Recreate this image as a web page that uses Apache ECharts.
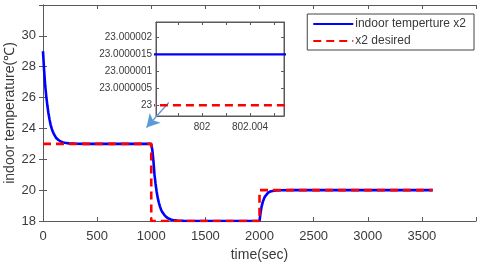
<!DOCTYPE html>
<html>
<head>
<meta charset="utf-8">
<script src="https://cdn.jsdelivr.net/npm/echarts@6/dist/echarts.min.js"></script>
<style>html,body{margin:0;padding:0;background:#fff}#c{width:480px;height:266px}</style>
</head>
<body>
<div id="c"></div>
<script>
// ---- data ----
const seriesNames = ['indoor temperture x2', 'x2 desired'];
const actualTime = [0,10,20,30,40,50,60,70,80,90,100,120,140,160,180,200,240,300,400,1000,
  1010,1020,1030,1040,1050,1060,1070,1080,1090,1100,1120,1140,1160,1180,1200,1240,1300,1400,2000,
  2010,2020,2030,2040,2050,2060,2080,2100,2120,2150,2200,2300,3600];
const actualTemp = [29.0,27.8,26.8,26.1,25.5,25.0,24.6,24.25,24.0,23.8,23.65,23.4,23.27,23.17,23.11,23.07,23.03,23.01,23.0,23.0,
  22.6,21.9,21.0,20.4,19.9,19.5,19.2,18.95,18.75,18.6,18.4,18.25,18.16,18.1,18.07,18.03,18.01,18.0,18.0,
  18.55,18.95,19.22,19.42,19.58,19.69,19.84,19.91,19.95,19.98,19.99,20.0,20.0];
const desiredTime = [0,1000,1000,2000,2000,3600];
const desiredTemp = [23,23,18,18,20,20];
const xTicks = [0,500,1000,1500,2000,2500,3000,3500];
const yTicks = [18,20,22,24,26,28,30];
// inset (zoom near t = 802 s)
const insetTime = [801.99, 802.01];
const insetActual = [23.0000015, 23.0000015];
const insetDesired = [23, 23];
const insetXTicks = [801.998, 802, 802.002, 802.004, 802.006];
const insetXLabels = [802, 802.004];
const insetYTicks = [23, 23.0000005, 23.000001, 23.0000015, 23.000002];
// arrow annotation (main axes coordinates)
const arrowFrom = [1162, 25.68];
const arrowTo = [956, 24.06];

const pair = (a, b) => a.map((x, i) => [x, b[i]]);
const FONT = 'Liberation Sans, Arial, Helvetica, sans-serif';
const AX = '#5a5a5a', TXT = '#3a3a3a';
const BLUE = '#0000ff', RED = '#ff0000';

function mainAxisBase() {
  return {
    type: 'value',
    axisLine: { show: true, lineStyle: { color: AX, width: 1 } },
    axisTick: { show: true, inside: true, length: 4, lineStyle: { color: AX } },
    splitLine: { show: false },
  };
}

const chart = echarts.init(document.getElementById('c'), null, { renderer: 'canvas' });
chart.setOption({
  animation: false,
  backgroundColor: '#fff',
  grid: [
    { left: 43, top: 5, width: 433, height: 216, containLabel: false, outerBoundsMode: 'none' },
    { left: 156, top: 22, width: 128, height: 94, containLabel: false, outerBoundsMode: 'none',
      show: true, backgroundColor: '#fff', borderColor: AX, borderWidth: 1 }
  ],
  legend: {
    data: seriesNames,
    orient: 'vertical',
    right: 6, top: 14,
    padding: [4, 8, 3, 5],
    itemGap: 5,
    itemWidth: 40, itemHeight: 10,
    backgroundColor: '#fff',
    borderColor: '#444', borderWidth: 1, borderRadius: 0,
    itemStyle: { opacity: 0 },
    textStyle: { fontFamily: FONT, fontSize: 12, color: TXT, padding: [0, 0, 0, -3] },
    selectedMode: false
  },
  xAxis: [
    Object.assign(mainAxisBase(), {
      gridIndex: 0, min: 0, max: 4000, interval: 500, position: 'bottom',
      axisLabel: { margin: 9, fontFamily: FONT, fontSize: 13, color: TXT,
        formatter: v => (xTicks.indexOf(v) >= 0 ? String(v) : '') },
      name: 'time(sec)', nameLocation: 'middle', nameGap: 27, nameMoveOverlap: false,
      nameTextStyle: { fontFamily: FONT, fontSize: 14, color: TXT }
    }),
    Object.assign(mainAxisBase(), {
      gridIndex: 0, min: 0, max: 4000, interval: 500, position: 'top',
      axisLabel: { show: false }
    }),
    {
      type: 'value', gridIndex: 1, min: 801.99617, max: 802.00683, position: 'bottom',
      axisLine: { show: true, lineStyle: { color: AX } },
      axisTick: { show: true, inside: true, length: 3, customValues: insetXTicks, lineStyle: { color: AX } },
      axisLabel: { customValues: insetXLabels, margin: 6, fontFamily: FONT, fontSize: 10, color: TXT,
        formatter: v => String(+(+v).toFixed(4)) },
      splitLine: { show: false }
    },
    {
      type: 'value', gridIndex: 1, min: 801.99617, max: 802.00683, position: 'top',
      axisLine: { show: true, lineStyle: { color: AX } },
      axisTick: { show: true, inside: true, length: 3, customValues: insetXTicks, lineStyle: { color: AX } },
      axisLabel: { show: false },
      splitLine: { show: false }
    }
  ],
  yAxis: [
    Object.assign(mainAxisBase(), {
      gridIndex: 0, min: 18, max: 32, interval: 2, position: 'left',
      axisLabel: { margin: 7, fontFamily: FONT, fontSize: 13, color: TXT,
        formatter: v => (yTicks.indexOf(v) >= 0 ? String(v) : '') },
      name: 'indoor temperature(℃)', nameLocation: 'middle', nameGap: 26, nameRotate: 90,
      nameMoveOverlap: false,
      nameTextStyle: { fontFamily: FONT, fontSize: 14, color: TXT }
    }),
    Object.assign(mainAxisBase(), {
      gridIndex: 0, min: 18, max: 32, interval: 2, position: 'right',
      axisLabel: { show: false }
    }),
    {
      type: 'value', gridIndex: 1, min: 22.999999685, max: 23.00000245, position: 'left',
      axisLine: { show: true, lineStyle: { color: AX } },
      axisTick: { show: true, inside: true, length: 3, customValues: insetYTicks, lineStyle: { color: AX } },
      axisLabel: { customValues: insetYTicks, margin: 4, fontFamily: FONT, fontSize: 10, color: TXT,
        formatter: v => String(+(+v).toFixed(7)) },
      splitLine: { show: false }
    },
    {
      type: 'value', gridIndex: 1, min: 22.999999685, max: 23.00000245, position: 'right',
      axisLine: { show: true, lineStyle: { color: AX } },
      axisTick: { show: true, inside: true, length: 3, customValues: insetYTicks, lineStyle: { color: AX } },
      axisLabel: { show: false },
      splitLine: { show: false }
    }
  ],
  series: [
    {
      name: seriesNames[0], type: 'line', xAxisIndex: 0, yAxisIndex: 0,
      data: pair(actualTime, actualTemp), showSymbol: false, symbol: 'none',
      lineStyle: { color: BLUE, width: 2.6 }, itemStyle: { color: BLUE }, z: 3
    },
    {
      name: seriesNames[1], type: 'line', xAxisIndex: 0, yAxisIndex: 0,
      data: pair(desiredTime, desiredTemp), showSymbol: false, symbol: 'none',
      lineStyle: { color: RED, width: 2.6, type: [8, 5] }, itemStyle: { color: RED }, z: 4
    },
    {
      name: 'inset actual', type: 'line', xAxisIndex: 2, yAxisIndex: 2,
      data: pair(insetTime, insetActual), showSymbol: false, symbol: 'none', clip: true,
      lineStyle: { color: BLUE, width: 2.2 }, z: 5
    },
    {
      name: 'inset desired', type: 'line', xAxisIndex: 2, yAxisIndex: 2,
      data: pair(insetTime, insetDesired), showSymbol: false, symbol: 'none', clip: true,
      lineStyle: { color: RED, width: 2.6, type: [8, 5] }, z: 5
    },
    {
      name: 'arrow', type: 'line', xAxisIndex: 0, yAxisIndex: 0, data: [], z: 10,
      markLine: {
        silent: true, symbol: ['none', 'arrow'], symbolSize: [11, 13],
        label: { show: false },
        lineStyle: { color: '#5b9bd5', width: 1.3, type: 'solid' },
        data: [[{ coord: arrowFrom }, { coord: arrowTo }]]
      }
    }
  ]
});
</script>
</body>
</html>
